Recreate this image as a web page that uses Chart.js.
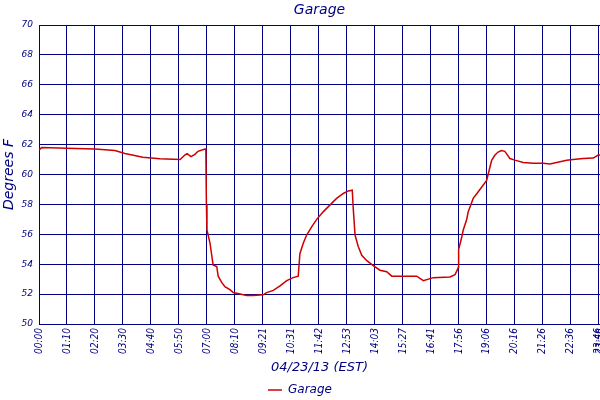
<!DOCTYPE html>
<html>
<head>
    <script src="https://cdn.jsdelivr.net/npm/chart.js@4.4.0/dist/chart.umd.min.js"></script>
    <style>
        body { margin: 0; background: #fff; }
    </style>
</head>
<body>
    <div style="width:600px;height:400px"><canvas id="myChart"></canvas></div>
    <script>
        // tick labels on the x axis (the log is read by sample number)
        const tickLabels = ['00:00', '01:10', '02:20', '03:30', '04:40', '05:50', '07:00', '08:10', '09:21', '10:31',
            '11:42', '12:53', '14:03', '15:27', '16:41', '17:56', '19:06', '20:16', '21:26', '22:36', '23:46', '23:58']
        const tickPos = [0, 1, 2, 3, 4, 5, 6, 7, 8, 9, 10, 11, 12, 13, 14, 15, 16, 17, 18, 19, 20, 20.04]

        // readings, position in tick intervals
        const sampleNo = [0, 0.1, 1, 2, 2.71, 3.07, 3.71, 4.32, 5.04, 5.21, 5.29, 5.43, 5.57, 5.68, 5.93, 5.96, 5.98, 6.0,
            6.11, 6.17, 6.22, 6.35, 6.4, 6.52, 6.64, 6.82, 6.94, 7.18, 7.42, 7.65, 8.01, 8.13, 8.37, 8.61, 8.85, 9.08,
            9.26, 9.32, 9.44, 9.56, 9.74, 9.92, 10.15, 10.39, 10.63, 10.87, 11.05, 11.19, 11.23, 11.29, 11.4, 11.53,
            11.7, 11.94, 12.18, 12.42, 12.6, 12.89, 13.49, 13.73, 14.08, 14.68, 14.86, 14.94, 14.98, 14.99, 15.04,
            15.1, 15.15, 15.21, 15.28, 15.33, 15.39, 15.51, 15.63, 15.75, 15.87, 15.99, 16.05, 16.11, 16.17, 16.29,
            16.4, 16.52, 16.64, 16.7, 16.82, 17.0, 17.3, 17.65, 18.01, 18.25, 18.49, 18.85, 19.08, 19.44, 19.8,
            19.98, 20.04]
        const degrees = [61.65, 61.8, 61.75, 61.7, 61.6, 61.4, 61.15, 61.05, 61.0, 61.3, 61.4, 61.2, 61.35, 61.55, 61.7,
            61.75, 58.0, 56.3, 55.4, 54.6, 53.95, 53.85, 53.2, 52.8, 52.5, 52.3, 52.1, 52.0, 51.9, 51.9, 51.95, 52.1,
            52.25, 52.55, 52.9, 53.1, 53.2, 54.7, 55.4, 55.95, 56.5, 57.0, 57.5, 57.95, 58.4, 58.73, 58.9, 58.95, 57.6,
            55.95, 55.2, 54.6, 54.25, 53.9, 53.6, 53.5, 53.2, 53.2, 53.2, 52.9, 53.1, 53.15, 53.3, 53.6, 53.8, 55.0,
            55.35, 55.8, 56.25, 56.6, 57.0, 57.5, 57.8, 58.4, 58.7, 59.0, 59.3, 59.6, 60.05, 60.5, 60.95, 61.3, 61.5,
            61.6, 61.55, 61.4, 61.07, 60.96, 60.8, 60.75, 60.75, 60.7, 60.8, 60.96, 61.0, 61.07, 61.1, 61.3, 61.3]

        const navy = '#000080'
        const fam = 'DejaVu Sans'

        drawChart()
        function drawChart() {
            const ctx = document.getElementById('myChart').getContext('2d')
            const myChart = new Chart(ctx, {
                type: 'line',
                data: {
                    datasets: [{
                        label: 'Garage',
                        data: sampleNo.map((s, i) => ({ x: s, y: degrees[i] })),
                        borderColor: '#cc0000',
                        backgroundColor: '#cc0000',
                        borderWidth: 1.5,
                        pointRadius: 0,
                        tension: 0,
                        fill: false
                    }]
                },
                options: {
                    responsive: true,
                    maintainAspectRatio: false,
                    animation: false,
                    layout: { padding: { left: 0, right: 0, top: 0, bottom: -6 } },
                    plugins: {
                        title: { display: false },
                        tooltip: { enabled: false },
                        legend: {
                            position: 'bottom',
                            labels: {
                                usePointStyle: true,
                                pointStyle: 'line',
                                pointStyleWidth: 14,
                                boxWidth: 14,
                                padding: 2,
                                color: navy,
                                font: { family: fam, size: 12, style: 'italic' }
                            }
                        }
                    },
                    scales: {
                        x: {
                            type: 'linear',
                            min: 0,
                            max: 20.04,
                            afterBuildTicks: scale => { scale.ticks = tickPos.map(v => ({ value: v })) },
                            afterFit: scale => {
                                scale.height = 58
                                scale.paddingLeft = 0
                                scale.paddingRight = 0
                            },
                            grid: { color: navy, lineWidth: 1, drawTicks: false },
                            border: { color: navy, width: 1 },
                            ticks: {
                                autoSkip: false,
                                minRotation: 90,
                                maxRotation: 90,
                                padding: 4,
                                color: navy,
                                font: { family: 'DejaVu Sans Condensed', size: 10, style: 'italic' },
                                callback: (v, i) => tickLabels[i]
                            },
                            title: {
                                display: true,
                                text: '04/23/13 (EST)',
                                color: navy,
                                padding: { top: 0, bottom: 7 },
                                font: { family: fam, size: 13, style: 'italic' }
                            }
                        },
                        xTop: {
                            type: 'linear',
                            position: 'top',
                            min: 0,
                            max: 1,
                            afterFit: scale => { scale.height = 25 },
                            grid: { display: false },
                            border: { display: false },
                            ticks: { display: false },
                            title: {
                                display: true,
                                text: 'Garage',
                                color: navy,
                                padding: { top: 2, bottom: 0 },
                                font: { family: fam, size: 14, style: 'italic' }
                            }
                        },
                        y: {
                            min: 50,
                            max: 70,
                            afterFit: scale => { scale.width = 39 },
                            grid: { color: navy, lineWidth: 1, drawTicks: false },
                            border: { color: navy, width: 1 },
                            ticks: {
                                stepSize: 2,
                                padding: 6,
                                color: navy,
                                font: { family: fam, size: 9, style: 'italic' }
                            },
                            title: {
                                display: true,
                                text: 'Degrees F',
                                color: navy,
                                padding: { top: 1, bottom: 0 },
                                font: { family: fam, size: 14, style: 'italic' }
                            }
                        }
                    }
                }
            })
        }
    </script>
</body>
</html>
